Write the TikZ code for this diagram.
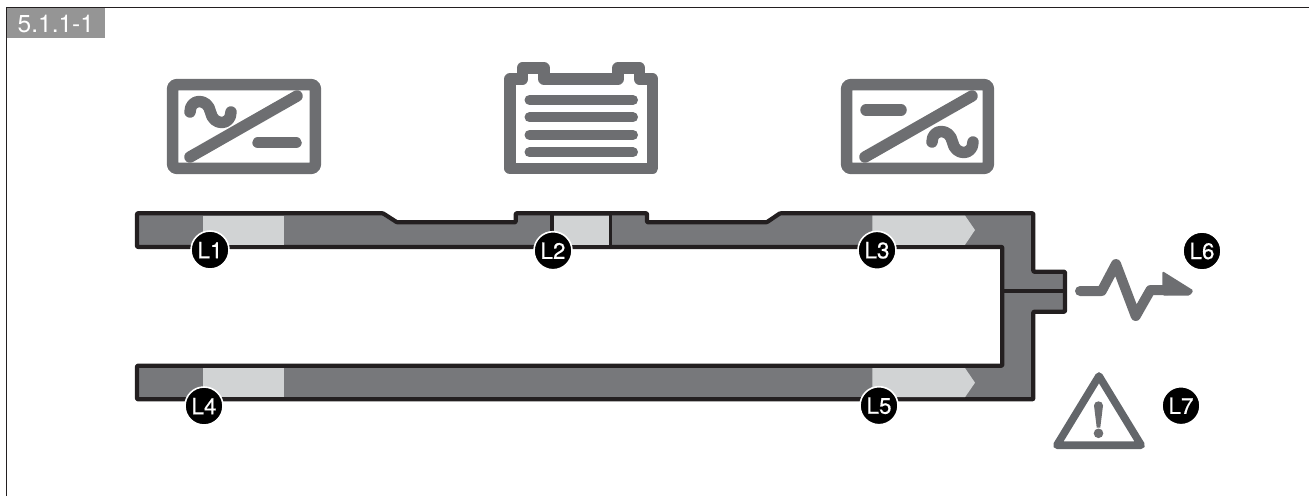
\documentclass[tikz,border=0pt]{standalone}
\usepackage{fontspec}
\setmainfont{TeX Gyre Heros}
\newfontfamily\badgefont[FakeBold=0.5]{TeX Gyre Heros}
\definecolor{inkblk}{HTML}{231F20}
\definecolor{busgray}{HTML}{77787B}
\definecolor{lightgray}{HTML}{D1D3D4}
\definecolor{icongray}{HTML}{6D6E71}
\definecolor{warngray}{HTML}{63666A}
\definecolor{taggray}{HTML}{959595}
\tikzset{
  x=1pt,y=-1pt,
  icon/.style={draw=icongray,line width=11.5pt,rounded corners=3.5pt,line join=round},
  battery/.style={draw=icongray,line width=11.5pt,line join=round},
  iconline/.style={draw=icongray,line width=11.5pt,line cap=round,line join=round},
  batline/.style={draw=icongray,line width=10pt,line cap=round},
  bus/.style={draw=inkblk,line width=4.2pt,fill=busgray,rounded corners=0.8pt,line join=round},
  divider/.style={draw=inkblk,line cap=butt},
  glow/.style={fill=lightgray,draw=none},
  badge/.style={circle,fill=black,draw=white,line width=1.6pt,minimum size=38pt,inner sep=0pt,text=white,font=\badgefont\fontsize{22.5}{22.5}\selectfont},
  tagtext/.style={text=white,font=\fontsize{24.5}{24.5}\selectfont,inner sep=0pt,anchor=west}
}
\begin{document}
\begin{tikzpicture}
\useasboundingbox (0,0) rectangle (1309,496);
% frame
\draw[inkblk,line width=1.6pt] (6.5,496) -- (6.5,7.5) -- (1309,7.5);
\fill[taggray] (7.3,8.3) rectangle (105,38);
\node[tagtext] (tag) at (17.5,23.5) {5.1.1-1};
% inverter icon AC/DC
\draw[icon] (172.7,84.7) rectangle (315.3,168.3);
\draw[iconline] (190,157) -- (297,96);
\draw[iconline] (258,142.7) -- (296,142.7);
\draw[iconline] (190,112) .. controls (190,98) and (208,98) .. (210.5,112) .. controls (213,126) and (231,126) .. (231,112);
% battery icon
\draw[battery] (510,168.3) -- (510,79) -- (522.5,79) -- (522.5,68) -- (544,68) -- (544,79) -- (618,79) -- (618,68) -- (639.5,68) -- (639.5,79) -- (652.5,79) -- (652.5,168.3) -- cycle;
\foreach \yy in {100,117.3,135,152.3}{\draw[batline] (529.5,\yy) -- (633,\yy);}
% inverter icon DC/AC
\draw[icon] (846.7,84.7) rectangle (988.3,168.3);
\draw[iconline] (865,157) -- (972,96);
\draw[iconline] (866,110) -- (901,110);
\draw[iconline] (932,142) .. controls (932,128) and (950,128) .. (952.5,142) .. controls (955,156) and (973,156) .. (973,142);
% bus bar
\draw[bus] (137,213.3) -- (383,213.3) -- (397,222.3) -- (515.7,222.3) -- (515.7,213.3) -- (647,213.3) -- (647,222.3) -- (766.7,222.3) -- (780,213.3) -- (1033.3,213.3) -- (1033.3,271.7) -- (1065,271.7) -- (1065,311.7) -- (1033.3,311.7) -- (1033.3,399.3) -- (137,399.3) -- (137,365.7) -- (1002.3,365.7) -- (1002.3,246.9) -- (137,246.9) -- cycle;
% highlighted sections
\fill[glow] (203,215.5) rectangle (284,244.8);
\fill[glow] (554,215.5) rectangle (608.5,244.8);
\fill[glow] (872.3,215.5) -- (965,215.5) -- (975,230) -- (965,244.8) -- (872.3,244.8) -- cycle;
\fill[glow] (203,368) rectangle (284,397.2);
\fill[glow] (872.3,368) -- (965,368) -- (975,382.7) -- (965,397.2) -- (872.3,397.2) -- cycle;
% dividers
\draw[divider,line width=3.6pt] (551.7,213.3) -- (551.7,247);
\draw[divider,line width=3pt] (610.7,213.3) -- (610.7,247);
\draw[divider,line width=3.8pt] (1002.3,291) -- (1065,291);
% pulse icon
\draw[draw=icongray,line width=10pt,line cap=round,line join=round] (1080,291) -- (1101.7,291) -- (1116,264) -- (1135.7,316) -- (1150.5,290) -- (1168,290);
\fill[icongray,rounded corners=1.5pt] (1162.3,271) -- (1193.5,290.5) -- (1190,295.5) -- (1162.3,295.5) -- cycle;
% warning icon
\draw[draw=warngray,line width=7.6pt,line join=round] (1099,376) -- (1141.2,445.2) -- (1056.8,445.2) -- cycle;
\fill[icongray] (1094,405.5) .. controls (1094,400) and (1103,400) .. (1103,405.5) -- (1100.3,427.5) -- (1096.7,427.5) -- cycle;
\fill[icongray] (1098.5,433.3) circle (4.8pt);
% badges
\node[badge] (L1) at (210,250) {L1};
\node[badge] (L2) at (553,250.7) {L2};
\node[badge] (L3) at (877,250.3) {L3};
\node[badge] (L4) at (204,406) {L4};
\node[badge] (L5) at (879,405.7) {L5};
\node[badge] (L6) at (1202,251) {L6};
\node[badge] (L7) at (1181,405.7) {L7};
\end{tikzpicture}
\end{document}
